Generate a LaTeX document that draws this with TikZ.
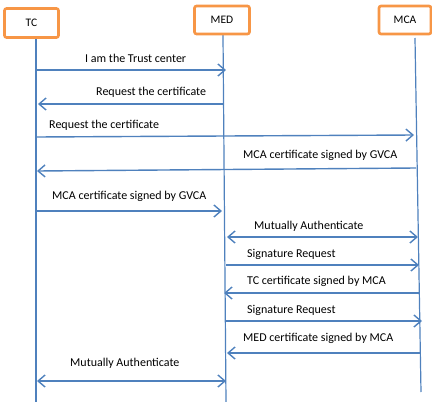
\documentclass[tikz,border=0pt]{standalone}
\usepackage{fontspec}
\setmainfont{Carlito}
\usetikzlibrary{arrows.meta}
\definecolor{lineblue}{HTML}{4F81BD}
\definecolor{boxorange}{HTML}{F79646}
\tikzset{
  actor/.style={draw=boxorange, line width=2.6pt, rounded corners=2pt, fill=white, inner sep=0pt, font=\fontsize{11.5}{13}\selectfont},
  lifeline/.style={draw=lineblue, line width=1.2pt},
  msg/.style={draw=lineblue, line width=1.4pt, -{Straight Barb[length=7pt,width=12pt]}},
  bimsg/.style={draw=lineblue, line width=1.4pt, {Straight Barb[length=7pt,width=12pt]}-{Straight Barb[length=7pt,width=12pt]}},
  lbl/.style={inner sep=0pt, font=\fontsize{12}{14}\selectfont, anchor=west}
}
\begin{document}
\begin{tikzpicture}[x=1pt,y=-1pt]
\useasboundingbox (0,0) rectangle (432,402);
% lifelines
\coordinate (tcTop) at (36,38);
\coordinate (tcBot) at (36,402);
\coordinate (medTop) at (223,35);
\coordinate (medBot) at (226,402);
\coordinate (mcaTop) at (415,38);
\coordinate (mcaBot) at (421,392);
\draw[lifeline] (tcTop) -- (tcBot);
\draw[lifeline] (medTop) -- (medBot);
\draw[lifeline] (mcaTop) -- (mcaBot);
% actors
\node[actor, minimum width=54pt, minimum height=29pt] (TC) at (31.5,23) {TC};
\node[actor, minimum width=55pt, minimum height=28pt] (MED) at (222,20) {MED};
\node[actor, minimum width=52pt, minimum height=28pt] (MCA) at (405,20) {MCA};
% message endpoints
\coordinate (a1s) at (36,70);  \coordinate (a1e) at (226,70);
\coordinate (a2s) at (223,104); \coordinate (a2e) at (38,104);
\coordinate (a3s) at (36,137); \coordinate (a3e) at (414,135);
\coordinate (a4s) at (416,168); \coordinate (a4e) at (37,171);
\coordinate (a5s) at (36,211); \coordinate (a5e) at (222,211);
\coordinate (a6s) at (227,237); \coordinate (a6e) at (418,237);
\coordinate (a7s) at (226,265); \coordinate (a7e) at (419,265);
\coordinate (a8s) at (419,293); \coordinate (a8e) at (224,293);
\coordinate (a9s) at (226,321); \coordinate (a9e) at (422,321);
\coordinate (a10s) at (420,353); \coordinate (a10e) at (227,353);
\coordinate (a11s) at (37,381); \coordinate (a11e) at (226,381);
\draw[msg] (a1s) -- (a1e);
\draw[msg] (a2s) -- (a2e);
\draw[msg] (a3s) -- (a3e);
\draw[msg] (a4s) -- (a4e);
\draw[msg] (a5s) -- (a5e);
\draw[bimsg] (a6s) -- (a6e);
\draw[msg] (a7s) -- (a7e);
\draw[msg] (a8s) -- (a8e);
\draw[msg] (a9s) -- (a9e);
\draw[msg] (a10s) -- (a10e);
\draw[bimsg] (a11s) -- (a11e);
% labels
\node[lbl] (l1) at (85,58) {I am the Trust center};
\node[lbl] (l2) at (96,92) {Request the certificate};
\node[lbl] (l3) at (49,125) {Request the certificate};
\node[lbl] (l4) at (243,155) {MCA certificate signed by GVCA};
\node[lbl] (l5) at (52,196) {MCA certificate signed by GVCA};
\node[lbl] (l6) at (254,226) {Mutually Authenticate};
\node[lbl] (l7) at (247,254) {Signature Request};
\node[lbl] (l8) at (247,281) {TC certificate signed by MCA};
\node[lbl] (l9) at (247,310) {Signature Request};
\node[lbl] (l10) at (243,338) {MED certificate signed by MCA};
\node[lbl] (l11) at (70,363) {Mutually Authenticate};
\end{tikzpicture}
\end{document}
